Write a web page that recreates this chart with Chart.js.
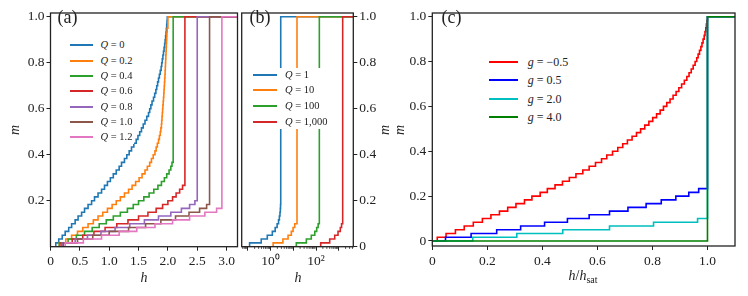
<!DOCTYPE html>
<html>
<head>
<meta charset="utf-8">
<script src="https://cdn.jsdelivr.net/npm/chart.js@4.4.1/dist/chart.umd.min.js"></script>
<style>
  body { margin: 0; background: #fff; }
  #fig { position: relative; width: 748px; height: 296px; overflow: hidden; font-family: "Liberation Serif", "Times New Roman", serif; color: #222; }
  #fig canvas { position: absolute; top: 0; }
  .lbl { position: absolute; white-space: nowrap; line-height: 1; }
  .legbox { position: absolute; background: #fff; }
  .legline { position: absolute; height: 2px; }
</style>
</head>
<body>
<div id="fig">
  <canvas id="chartA" width="240" height="296" style="left:0"></canvas>
  <canvas id="chartB" width="150" height="296" style="left:238px"></canvas>
  <canvas id="chartC" width="353" height="296" style="left:395px"></canvas>
</div>
<script>
// magnetisation plateaus (m levels of the staircases)
const stepLevels = [0, 0.0167, 0.0333, 0.05, 0.0667, 0.0833, 0.1, 0.1167, 0.1333, 0.15, 0.1667,
  0.1833, 0.2, 0.2167, 0.2333, 0.25, 0.2667, 0.2833, 0.3, 0.3167, 0.3333,
  0.35, 0.3667, 0.3833, 0.4, 0.4167, 0.4333, 0.45, 0.4667, 0.4833, 0.5,
  0.5167, 0.5333, 0.55, 0.5667, 0.5833, 0.6, 0.6167, 0.6333, 0.65, 0.6667,
  0.6833, 0.7, 0.7167, 0.7333, 0.75, 0.7667, 0.7833, 0.8, 0.8167, 0.8333,
  0.85, 0.8667, 0.8833, 0.9, 0.9167, 0.9333, 0.95, 0.9667, 0.9833, 1.0];

// (a) field h at which each step up occurs, one list per Q
const qLabelsA = ["0", "0.2", "0.4", "0.6", "0.8", "1.0", "1.2"];
const stepsA_Q0 = [0.09, 0.14, 0.20, 0.25, 0.31, 0.36, 0.42, 0.47, 0.53, 0.58,
  0.64, 0.70, 0.75, 0.81, 0.87, 0.92, 0.97, 1.02, 1.07, 1.12,
  1.17, 1.21, 1.26, 1.30, 1.34, 1.38, 1.42, 1.46, 1.49, 1.52,
  1.55, 1.58, 1.61, 1.64, 1.67, 1.69, 1.71, 1.73, 1.755, 1.775,
  1.795, 1.81, 1.825, 1.84, 1.855, 1.87, 1.885, 1.895, 1.905, 1.915,
  1.925, 1.935, 1.945, 1.953, 1.961, 1.968, 1.974, 1.98, 1.985, 1.99];
const stepsA_Q02 = [0.15, 0.26, 0.36, 0.46, 0.55, 0.64, 0.73, 0.81, 0.89, 0.97,
  1.05, 1.12, 1.19, 1.26, 1.33, 1.39, 1.45, 1.51, 1.56, 1.61,
  1.65, 1.69, 1.72, 1.75, 1.78, 1.80, 1.82, 1.84, 1.855, 1.87,
  1.88, 1.89, 1.895, 1.90, 1.905, 1.91, 1.915, 1.92, 1.925, 1.93,
  1.934, 1.938, 1.942, 1.946, 1.95, 1.953, 1.956, 1.959, 1.962, 1.965,
  1.968, 1.971, 1.974, 1.977, 1.98, 1.984, 1.988];
const stepsA_Q04 = [0.15, 0.30, 0.44, 0.58, 0.71, 0.83, 0.95, 1.07, 1.19, 1.31,
  1.41, 1.50, 1.59, 1.68, 1.76, 1.83, 1.89, 1.94, 1.98, 2.02, 2.05, 2.07];
const stepsA_Q06 = [0.18, 0.37, 0.55, 0.74, 0.93, 1.13, 1.32, 1.50, 1.66, 1.80,
  1.91, 2.00, 2.08, 2.14, 2.20, 2.25];
const stepsA_Q08 = [0.20, 0.42, 0.63, 0.86, 1.10, 1.35, 1.60, 1.84, 2.05, 2.23, 2.37, 2.46];
const stepsA_Q10 = [0.22, 0.46, 0.72, 1.00, 1.33, 1.62, 1.88, 2.13, 2.36, 2.54, 2.66];
const stepsA_Q12 = [0.25, 0.56, 0.87, 1.17, 1.47, 1.78, 2.08, 2.37, 2.63, 2.83];
const satA = [1.99, 2.0, 2.09, 2.29, 2.50, 2.71, 2.92];

// (b) log field axis
const qLabelsB = ["1", "10", "100", "1,000"];
const stepsB_Q1 = [0.12, 0.39, 0.72, 1.2, 1.6, 1.95, 2.25, 2.45, 2.6, 2.7, 2.76];
const stepsB_Q10 = [1.3, 3.5, 5.9, 8.2, 9.8, 11.6];
const stepsB_Q100 = [13.6, 37.5, 62, 88, 107, 124];
const stepsB_Q1000 = [161, 400, 664, 927, 1170, 1330];
const satB = [2.81, 14.6, 140, 1490];

// (c) reduced field h/h_sat
const gLabelsC = ["\u22120.5", "0.5", "2.0", "4.0"];
const stepsC_gm05 = [0.018, 0.050, 0.084, 0.116, 0.149, 0.182, 0.213, 0.244, 0.274, 0.304,
  0.335, 0.362, 0.392, 0.418, 0.446, 0.473, 0.498, 0.522, 0.547, 0.570,
  0.593, 0.615, 0.634, 0.655, 0.674, 0.692, 0.709, 0.726, 0.742, 0.757,
  0.772, 0.787, 0.801, 0.815, 0.828, 0.840, 0.852, 0.864, 0.875, 0.886,
  0.896, 0.906, 0.916, 0.925, 0.933, 0.941, 0.948, 0.955, 0.961, 0.966,
  0.971, 0.976, 0.980, 0.984, 0.988, 0.991, 0.994, 0.996, 0.998, 1.0];
const stepsC_g05 = [0.048, 0.141, 0.234, 0.321, 0.408, 0.491, 0.570, 0.644, 0.711, 0.777,
  0.832, 0.885, 0.932, 0.968];
const stepsC_g2 = [0.147, 0.307, 0.474, 0.644, 0.804, 0.964];
const stepsC_g4 = [];
const satC = [1.0, 1.0, 1.0, 1.0];

// ticks
const xTicksA = [0, 0.5, 1.0, 1.5, 2.0, 2.5, 3.0];
const xTickLabelsA = ["0", "0.5", "1.0", "1.5", "2.0", "2.5", "3.0"];
const yTicksA = [0.2, 0.4, 0.6, 0.8, 1.0];
const yTickLabelsA = ["0.2", "0.4", "0.6", "0.8", "1.0"];
const xTicksB = [0.1, 1, 10, 100, 1000];
const xTickLabelsB = ["", "10\u2070", "", "10\u00b2", ""];
const yTicksB = [0, 0.2, 0.4, 0.6, 0.8, 1.0];
const yTickLabelsB = ["0", "0.2", "0.4", "0.6", "0.8", "1.0"];
const xTicksC = [0, 0.2, 0.4, 0.6, 0.8, 1.0];
const xTickLabelsC = ["0", "0.2", "0.4", "0.6", "0.8", "1.0"];
const yTicksC = [0, 0.2, 0.4, 0.6, 0.8, 1.0];
const yTickLabelsC = ["0", "0.2", "0.4", "0.6", "0.8", "1.0"];

const tab10 = ["#1f77b4", "#ff7f0e", "#2ca02c", "#d62728", "#9467bd", "#8c564b", "#e377c2"];
const colorsC = ["#ff0000", "#0000ff", "#00bfbf", "#008000"];

Chart.defaults.font.family = "'Liberation Serif', 'Times New Roman', serif";
Chart.defaults.color = "#222";
Chart.defaults.animation = false;

const AXIS = "#222";
const tickFont = { size: 13.5 };

function staircase(steps, sat, xStart, xEnd) {
  const pts = [{ x: xStart, y: stepLevels[0] }];
  steps.forEach((h, i) => pts.push({ x: h, y: stepLevels[i + 1] }));
  pts.push({ x: sat, y: 1 });
  pts.push({ x: xEnd, y: 1 });
  return pts;
}

function makeDatasets(stepLists, sats, colors, xStart, xEnd) {
  return stepLists.map((steps, i) => ({
    data: staircase(steps, sats[i], xStart, xEnd),
    borderColor: colors[i],
    borderWidth: 1.6,
    pointRadius: 0,
    stepped: true,
    fill: false,
    order: -i
  }));
}

const framePlugin = {
  id: "frame",
  afterDatasetsDraw(chart) {
    const { ctx, chartArea: a } = chart;
    ctx.save();
    ctx.strokeStyle = AXIS;
    ctx.lineWidth = 1.3;
    ctx.strokeRect(a.left, a.top, a.right - a.left, a.bottom - a.top);
    ctx.restore();
  }
};

// minor ticks on the log axis of panel (b)
const minorTicksPlugin = {
  id: "minorTicks",
  afterDatasetsDraw(chart) {
    const s = chart.scales.x;
    const { ctx, chartArea: a } = chart;
    ctx.save();
    ctx.strokeStyle = AXIS;
    ctx.lineWidth = 0.8;
    for (let d = 0.01; d < 1e4; d *= 10) {
      for (let j = 2; j <= 9; j++) {
        const v = d * j;
        if (v < s.min || v > s.max) continue;
        const px = s.getPixelForValue(v);
        ctx.beginPath();
        ctx.moveTo(px, a.bottom);
        ctx.lineTo(px, a.bottom + 2.2);
        ctx.stroke();
      }
    }
    ctx.restore();
  }
};

function axis(opts) {
  return {
    type: opts.type || "linear",
    position: opts.position,
    min: opts.min,
    max: opts.max,
    afterBuildTicks: s => { s.ticks = opts.ticks.map(v => ({ value: v })); },
    afterFit: s => {
      if (opts.width !== undefined) s.width = opts.width;
      if (opts.height !== undefined) s.height = opts.height;
    },
    ticks: {
      font: tickFont,
      color: AXIS,
      padding: opts.padding !== undefined ? opts.padding : 2,
      maxRotation: 0,
      autoSkip: false,
      callback: (v, i) => opts.labels[i]
    },
    grid: { drawOnChartArea: false, drawTicks: true, tickLength: 4, color: AXIS, tickWidth: 1 },
    border: { display: false },
    title: { display: false }
  };
}

function baseOptions(padding, scales) {
  return {
    responsive: false,
    animation: false,
    layout: { padding },
    plugins: { legend: { display: false }, tooltip: { enabled: false } },
    scales
  };
}

// Panel (a)
new Chart(document.getElementById("chartA"), {
  type: "line",
  data: {
    datasets: makeDatasets(
      [stepsA_Q0, stepsA_Q02, stepsA_Q04, stepsA_Q06, stepsA_Q08, stepsA_Q10, stepsA_Q12],
      satA, tab10, 0, 3.3)
  },
  options: baseOptions({ left: 0, right: 2.5, top: 13, bottom: 0 }, {
    x: axis({ min: 0, max: 3.186, ticks: xTicksA, labels: xTickLabelsA, height: 49.3, padding: 3 }),
    y: axis({ position: "left", min: 0, max: 1.016, ticks: yTicksA, labels: yTickLabelsA, width: 50.5 })
  }),
  plugins: [framePlugin]
});

// Panel (b)
new Chart(document.getElementById("chartB"), {
  type: "line",
  data: {
    datasets: makeDatasets([stepsB_Q1, stepsB_Q10, stepsB_Q100, stepsB_Q1000],
      satB, tab10, 0.054, 5000)
  },
  options: baseOptions({ left: 3.7, right: 0, top: 13, bottom: 0 }, {
    x: axis({ type: "logarithmic", min: 0.054, max: 4360, ticks: xTicksB, labels: xTickLabelsB, height: 49.3, padding: 3 }),
    y: axis({ position: "right", min: 0, max: 1.016, ticks: yTicksB, labels: yTickLabelsB, width: 34.7 })
  }),
  plugins: [framePlugin, minorTicksPlugin]
});

// Panel (c)
new Chart(document.getElementById("chartC"), {
  type: "line",
  data: {
    datasets: makeDatasets([stepsC_gm05, stepsC_g05, stepsC_g2, stepsC_g4],
      satC, colorsC, 0, 1.1)
  },
  options: baseOptions({ left: 0, right: 13, top: 13, bottom: 0 }, {
    x: axis({ min: 0, max: 1.1, ticks: xTicksC, labels: xTickLabelsC, height: 50, padding: 3 }),
    y: axis({ position: "left", min: -0.0223, max: 1.0165, ticks: yTicksC, labels: yTickLabelsC, width: 37.3 })
  }),
  plugins: [framePlugin]
});

// text overlays: axis titles, panel tags, legends
const fig = document.getElementById("fig");

function addText(html, x, y, size, anchor, rotate) {
  const d = document.createElement("div");
  d.className = "lbl";
  d.innerHTML = html;
  d.style.fontSize = size + "px";
  d.style.left = x + "px";
  d.style.top = y + "px";
  const tx = anchor === "left" ? "0" : "-50%";
  d.style.transform = "translate(" + tx + ",-50%)" + (rotate ? " rotate(-90deg)" : "");
  fig.appendChild(d);
}

function addLegend(box, rows, labels, colors, lineX, lineLen, textX, size) {
  const b = document.createElement("div");
  b.className = "legbox";
  b.style.left = box[0] + "px";
  b.style.top = box[1] + "px";
  b.style.width = (box[2] - box[0]) + "px";
  b.style.height = (box[3] - box[1]) + "px";
  fig.appendChild(b);
  labels.forEach((lab, i) => {
    const ln = document.createElement("div");
    ln.className = "legline";
    ln.style.left = Math.round(lineX) + "px";
    ln.style.top = (Math.round(rows[i]) - 1) + "px";
    ln.style.width = Math.round(lineLen) + "px";
    ln.style.background = colors[i];
    fig.appendChild(ln);
    addText(lab, textX, rows[i], size, "left");
  });
}

addText("<i>m</i>", 15, 130, 14, "center", true);
addText("<i>m</i>", 385, 130, 14, "center", true);
addText("<i>m</i>", 400, 130, 14, "center", true);
addText("<i>h</i>", 144, 278, 14, "center");
addText("<i>h</i>", 298, 278, 14, "center");
addText("<i>h</i>/<i>h</i><sub style=\"font-size:10px;vertical-align:-3px\">sat</sub>", 583, 277, 14, "center");

addText("(a)", 57.5, 16.5, 18, "left");
addText("(b)", 249.5, 16.5, 18, "left");
addText("(c)", 441.5, 16.5, 18, "left");

addLegend([64, 37, 134, 144], [45, 61, 76, 91, 107, 122, 137],
  qLabelsA.map(q => "<i>Q</i> = " + q), tab10, 70, 23, 100.5, 10.5);
addLegend([246, 68, 331, 129], [75, 90, 106, 122],
  qLabelsB.map(q => "<i>Q</i> = " + q), tab10, 253, 24, 285, 10.5);
addLegend([484, 52, 596, 126], [62, 80, 99, 117],
  gLabelsC.map(g => "<i>g</i> = " + g), colorsC, 489, 29, 527.7, 12);
</script>
</body>
</html>
